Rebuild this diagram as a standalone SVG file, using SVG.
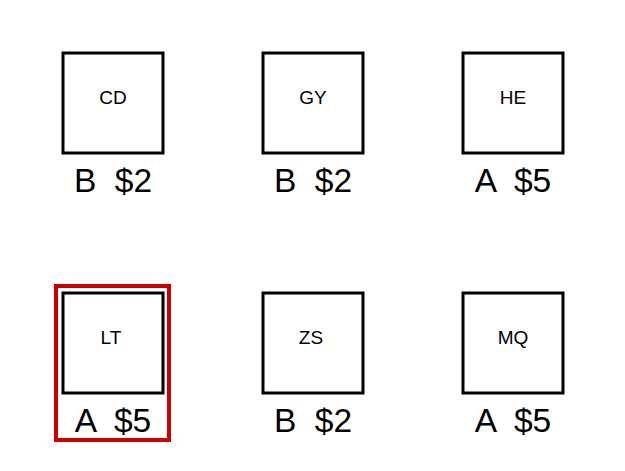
<svg xmlns="http://www.w3.org/2000/svg" width="625" height="471" viewBox="0 0 625 471">
<style>
.box{fill:#fff;stroke:#000;stroke-width:3}
.name{font-family:"Liberation Sans",Arial,sans-serif;font-size:19px;text-anchor:middle;fill:#000}
.lbl{font-family:"Liberation Sans",Arial,sans-serif;font-size:33.5px;text-anchor:middle;fill:#000}
.sel{fill:none;stroke:#cc0000;stroke-width:4}
</style>
<rect width="625" height="471" fill="#fff"/>
<g id="connectors"></g>
<g id="CD"><rect class="box" x="63" y="53" width="100" height="100"/><text class="name" x="113" y="103.5">CD</text><text class="lbl" x="113" y="192" xml:space="preserve">B  $2</text></g>
<g id="GY"><rect class="box" x="263" y="53" width="100" height="100"/><text class="name" x="313" y="103.5">GY</text><text class="lbl" x="313" y="192" xml:space="preserve">B  $2</text></g>
<g id="HE"><rect class="box" x="463" y="53" width="100" height="100"/><text class="name" x="513" y="103.5">HE</text><text class="lbl" x="513" y="192" xml:space="preserve">A  $5</text></g>
<g id="LT"><rect class="sel" x="56" y="286" width="113" height="154"/><rect class="box" x="63" y="293" width="100" height="100"/><text class="name" x="111" y="343.5">LT</text><text class="lbl" x="113" y="432" xml:space="preserve">A  $5</text></g>
<g id="ZS"><rect class="box" x="263" y="293" width="100" height="100"/><text class="name" x="311" y="343.5">ZS</text><text class="lbl" x="313" y="432" xml:space="preserve">B  $2</text></g>
<g id="MQ"><rect class="box" x="463" y="293" width="100" height="100"/><text class="name" x="513" y="343.5">MQ</text><text class="lbl" x="513" y="432" xml:space="preserve">A  $5</text></g>
</svg>
